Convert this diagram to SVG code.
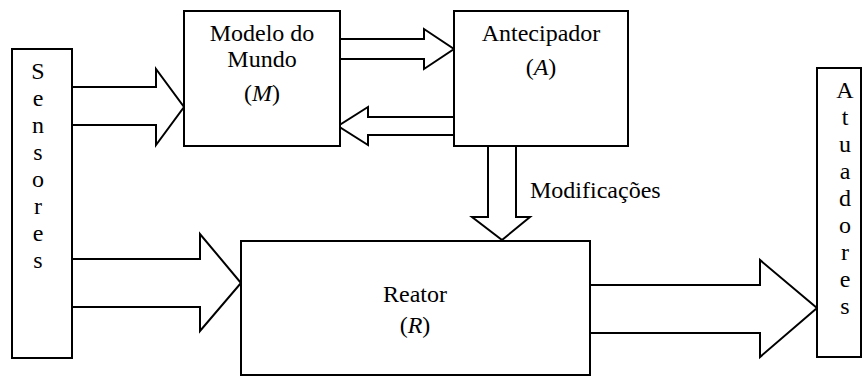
<svg xmlns="http://www.w3.org/2000/svg" width="866" height="377" viewBox="0 0 866 377">
<rect width="866" height="377" fill="#fff"/>
<g id="connectors" fill="#fff" stroke="#000" stroke-width="2">
<polygon points="70,87 156,87 156,69 184,107 156,145 156,125 70,125"/>
<polygon points="340,39 424,39 424,29 454,49 424,69 424,59 340,59"/>
<polygon points="454,117 368,117 368,107 338,126 368,145 368,135 454,135"/>
<polygon points="488,146 516,146 516,217 530,217 502,240 472,217 488,217"/>
<polygon points="70,259 200,259 200,234 241,283 200,331 200,307 70,307"/>
<polygon points="589,285 760,285 760,260 817,308 760,357 760,333 589,333"/>
</g>
<g id="sensores">
<rect x="12" y="49" width="60" height="309" fill="#fff" stroke="#000" stroke-width="2"/>
<text font-family="'Liberation Serif', serif" font-size="24" text-anchor="middle" x="38" y="79">S</text>
<text font-family="'Liberation Serif', serif" font-size="24" text-anchor="middle" x="38" y="106">e</text>
<text font-family="'Liberation Serif', serif" font-size="24" text-anchor="middle" x="38" y="133">n</text>
<text font-family="'Liberation Serif', serif" font-size="24" text-anchor="middle" x="38" y="160">s</text>
<text font-family="'Liberation Serif', serif" font-size="24" text-anchor="middle" x="38" y="187">o</text>
<text font-family="'Liberation Serif', serif" font-size="24" text-anchor="middle" x="38" y="214">r</text>
<text font-family="'Liberation Serif', serif" font-size="24" text-anchor="middle" x="38" y="241">e</text>
<text font-family="'Liberation Serif', serif" font-size="24" text-anchor="middle" x="38" y="268">s</text>
</g>
<g id="modelo">
<rect x="184" y="11" width="156" height="135" fill="#fff" stroke="#000" stroke-width="2"/>
<text font-family="'Liberation Serif', serif" font-size="24" text-anchor="middle" x="262" y="41">Modelo do</text>
<text font-family="'Liberation Serif', serif" font-size="24" text-anchor="middle" x="262" y="67">Mundo</text>
<text font-family="'Liberation Serif', serif" font-size="24" text-anchor="middle" x="262" y="101">(<tspan font-style="italic">M</tspan>)</text>
</g>
<g id="antecipador">
<rect x="454" y="11" width="174" height="135" fill="#fff" stroke="#000" stroke-width="2"/>
<text font-family="'Liberation Serif', serif" font-size="24" text-anchor="middle" x="541" y="41">Antecipador</text>
<text font-family="'Liberation Serif', serif" font-size="24" text-anchor="middle" x="541" y="75">(<tspan font-style="italic">A</tspan>)</text>
</g>
<g id="reator">
<rect x="241" y="241" width="349" height="134" fill="#fff" stroke="#000" stroke-width="2"/>
<text font-family="'Liberation Serif', serif" font-size="24" text-anchor="middle" x="415" y="302">Reator</text>
<text font-family="'Liberation Serif', serif" font-size="24" text-anchor="middle" x="415" y="333">(<tspan font-style="italic">R</tspan>)</text>
</g>
<g id="atuadores">
<rect x="817" y="68" width="44" height="289" fill="#fff" stroke="#000" stroke-width="2"/>
<text font-family="'Liberation Serif', serif" font-size="24" text-anchor="middle" x="845" y="98">A</text>
<text font-family="'Liberation Serif', serif" font-size="24" text-anchor="middle" x="845" y="125">t</text>
<text font-family="'Liberation Serif', serif" font-size="24" text-anchor="middle" x="845" y="152">u</text>
<text font-family="'Liberation Serif', serif" font-size="24" text-anchor="middle" x="845" y="179">a</text>
<text font-family="'Liberation Serif', serif" font-size="24" text-anchor="middle" x="845" y="206">d</text>
<text font-family="'Liberation Serif', serif" font-size="24" text-anchor="middle" x="845" y="233">o</text>
<text font-family="'Liberation Serif', serif" font-size="24" text-anchor="middle" x="845" y="260">r</text>
<text font-family="'Liberation Serif', serif" font-size="24" text-anchor="middle" x="845" y="287">e</text>
<text font-family="'Liberation Serif', serif" font-size="24" text-anchor="middle" x="845" y="314">s</text>
</g>
<g id="label-modificacoes">
<text font-family="'Liberation Serif', serif" font-size="24" x="530" y="198">Modificações</text>
</g>
</svg>
